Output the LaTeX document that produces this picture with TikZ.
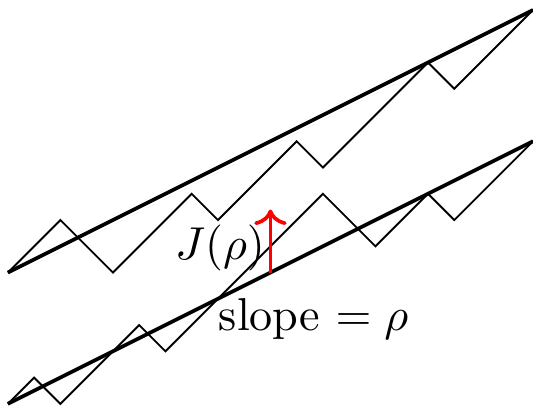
\documentclass[tikz,border=0pt]{standalone}
\usepackage{amsmath}
\usepackage{tikz}
\usetikzlibrary{arrows.meta}
\tikzset{
  bound/.style={thick, black},
  walk/.style={black},
  jump/.style={->, thick, red},
}

\begin{document}
\begin{tikzpicture}[x=0.2cm, y=0.2cm]
  \useasboundingbox (-0.3,-5.08) rectangle (20,10.38);
  % the two bounding lines
  \draw[bound] (0,0) -- (20,10);
  \draw[bound] (0,-5) -- (20,5);
  % zigzag paths
  \draw[walk] (0,0) -- (2,2) -- (4,0) -- (7,3) -- (8,2) -- (11,5) -- (12,4) -- (16,8) -- (17,7) -- (20,10);
  \draw[walk] (0,-5) -- (1,-4) -- (2,-5) -- (5,-2) -- (6,-3) -- (12,3) -- (14,1) -- (16,3) -- (17,2) -- (20,5);
  % jump
  \coordinate (base) at (10,0);
  \coordinate (tip) at (10,2.4);
  \draw[jump] (base) -- (tip);
  \node[anchor=east, inner sep=1pt] (jlabel) at (10,0.95) {$J(\rho)$};
  \node[anchor=north west, inner sep=0pt] (slope) at (8,-0.95) {slope $= \rho$};
\end{tikzpicture}
\end{document}
